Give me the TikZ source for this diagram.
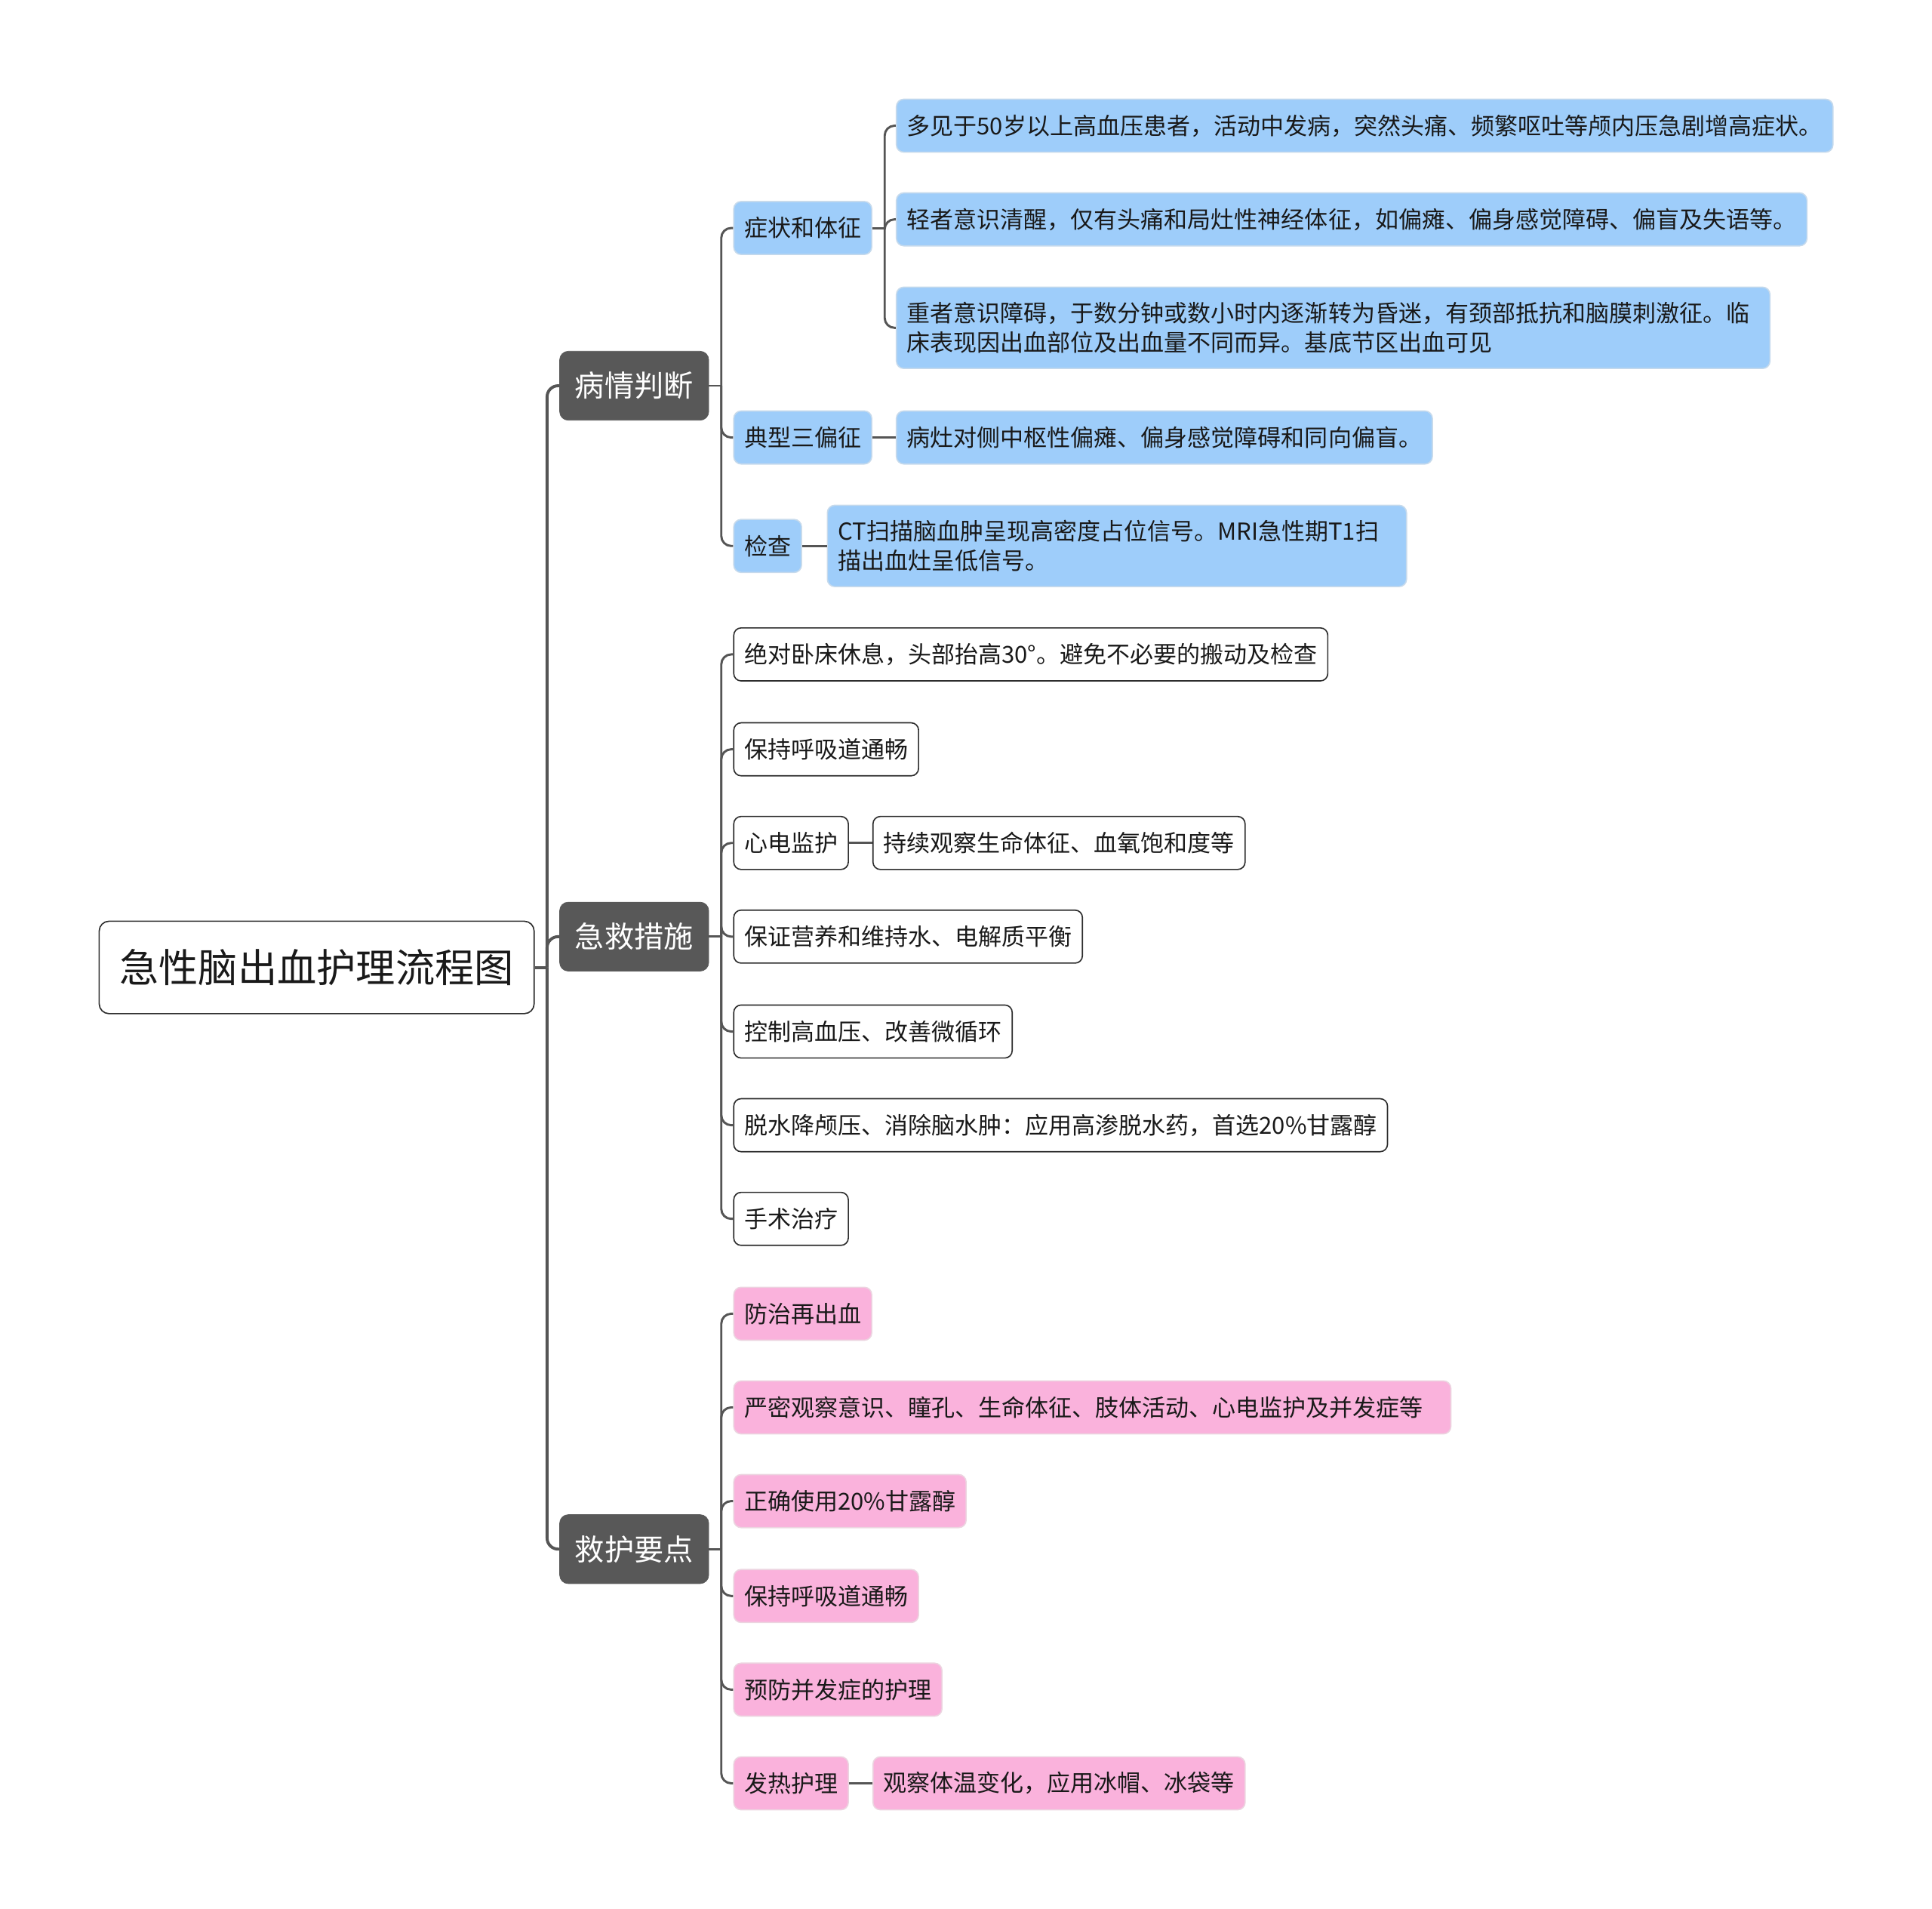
\documentclass[tikz,border=0pt]{standalone}
\usepackage{fontspec}
\setmainfont{Noto Sans CJK SC}
\definecolor{darkg}{RGB}{88,88,88}
\definecolor{lineg}{RGB}{85,85,85}
\definecolor{bluef}{RGB}{158,205,250}
\definecolor{blued}{RGB}{198,218,236}
\definecolor{pinkf}{RGB}{250,178,220}
\definecolor{pinkd}{RGB}{236,212,224}
\definecolor{boxd}{RGB}{45,45,45}
\definecolor{txt}{RGB}{25,25,25}
\tikzset{
  basebox/.style={rounded corners=6pt, inner xsep=8.5pt, inner ysep=0pt, minimum height=43pt,
    anchor=west, font=\fontsize{19}{24}\selectfont, align=left, text=txt},
  bluebox/.style={basebox, fill=bluef, draw=blued, line width=1pt},
  pinkbox/.style={basebox, fill=pinkf, draw=pinkd, line width=1pt},
  whitebox/.style={basebox, fill=white, draw=boxd, line width=1pt},
  lvlbox/.style={rounded corners=7pt, fill=darkg, draw=darkg, text=white, minimum height=56pt,
    inner xsep=12.5pt, inner ysep=0pt, anchor=west, font=\fontsize{24}{28}\selectfont},
  rootbox/.style={rounded corners=8pt, fill=white, draw=boxd, line width=1pt, minimum height=75pt,
    inner xsep=16.5pt, inner ysep=0pt, anchor=west, font=\fontsize{32}{36}\selectfont, text=txt},
  trunk/.style={draw=lineg, line width=2.4pt, rounded corners=9pt},
  conn/.style={draw=lineg, line width=1.8pt, rounded corners=8pt},
}
\begin{document}
\begin{tikzpicture}[x=1pt,y=-1pt]
\useasboundingbox (0,0) rectangle (1568,1549);
% root and level 1
\node[rootbox] (root) at (80,785) {急性脑出血护理流程图};
\node[lvlbox] (La) at (454,313) {病情判断};
\node[lvlbox] (Lb) at (454,760) {急救措施};
\node[lvlbox] (Lc) at (454,1257) {救护要点};
% branch A
\node[bluebox] (A1) at (595,185) {症状和体征};
\node[bluebox] (A2) at (595,355) {典型三偏征};
\node[bluebox] (A3) at (595,443) {检查};
\node[bluebox] (A11) at (727,102) {多见于50岁以上高血压患者，活动中发病，突然头痛、频繁呕吐等颅内压急剧增高症状。};
\node[bluebox] (A12) at (727,178) {轻者意识清醒，仅有头痛和局灶性神经体征，如偏瘫、偏身感觉障碍、偏盲及失语等。};
\node[bluebox, minimum height=66pt, text width=692pt] (A13) at (727,266) {重者意识障碍，于数分钟或数小时内逐渐转为昏迷，有颈部抵抗和脑膜刺激征。临\\床表现因出血部位及出血量不同而异。基底节区出血可见};
\node[bluebox] (A21) at (727,355) {病灶对侧中枢性偏瘫、偏身感觉障碍和同向偏盲。};
\node[bluebox, minimum height=66pt, text width=453pt] (A31) at (671,443) {CT扫描脑血肿呈现高密度占位信号。MRI急性期T1扫\\描出血灶呈低信号。};
% branch B
\node[whitebox] (B1) at (595,531) {绝对卧床休息，头部抬高30°。避免不必要的搬动及检查};
\node[whitebox] (B2) at (595,608) {保持呼吸道通畅};
\node[whitebox] (B3) at (595,684) {心电监护};
\node[whitebox] (B31) at (708,684) {持续观察生命体征、血氧饱和度等};
\node[whitebox] (B4) at (595,760) {保证营养和维持水、电解质平衡};
\node[whitebox] (B5) at (595,837) {控制高血压、改善微循环};
\node[whitebox] (B6) at (595,913) {脱水降颅压、消除脑水肿：应用高渗脱水药，首选20\%甘露醇};
\node[whitebox] (B7) at (595,989) {手术治疗};
% branch C
\node[pinkbox] (C1) at (595,1066) {防治再出血};
\node[pinkbox, text width=565pt] (C2) at (595,1142) {严密观察意识、瞳孔、生命体征、肢体活动、心电监护及并发症等};
\node[pinkbox] (C3) at (595,1218) {正确使用20\%甘露醇};
\node[pinkbox] (C4) at (595,1295) {保持呼吸道通畅};
\node[pinkbox] (C5) at (595,1371) {预防并发症的护理};
\node[pinkbox] (C6) at (595,1447) {发热护理};
\node[pinkbox] (C61) at (708,1447) {观察体温变化，应用冰帽、冰袋等};
% bus points
\coordinate (t0) at ([xshift=10pt]root.east);
\coordinate (ta) at ([xshift=10pt]La.east);
\coordinate (tb) at ([xshift=10pt]Lb.east);
\coordinate (tc) at ([xshift=10pt]Lc.east);
\coordinate (t1) at ([xshift=10pt]A1.east);
% connectors
\draw[trunk] (root.east) -- (t0);
\foreach \c in {La,Lb,Lc} \draw[trunk] (t0) |- (\c.west);
\draw[conn] (La.east) -- (ta);
\foreach \c in {A1,A2,A3} \draw[conn] (ta) |- (\c.west);
\draw[conn] (A1.east) -- (t1);
\foreach \c in {A11,A12,A13} \draw[conn] (t1) |- (\c.west);
\draw[conn] (A2.east) -- (A21.west);
\draw[conn] (A3.east) -- (A31.west);
\draw[conn] (Lb.east) -- (tb);
\foreach \c in {B1,B2,B3,B4,B5,B6,B7} \draw[conn] (tb) |- (\c.west);
\draw[conn] (B3.east) -- (B31.west);
\draw[conn] (Lc.east) -- (tc);
\foreach \c in {C1,C2,C3,C4,C5,C6} \draw[conn] (tc) |- (\c.west);
\draw[conn] (C6.east) -- (C61.west);
\end{tikzpicture}
\end{document}
